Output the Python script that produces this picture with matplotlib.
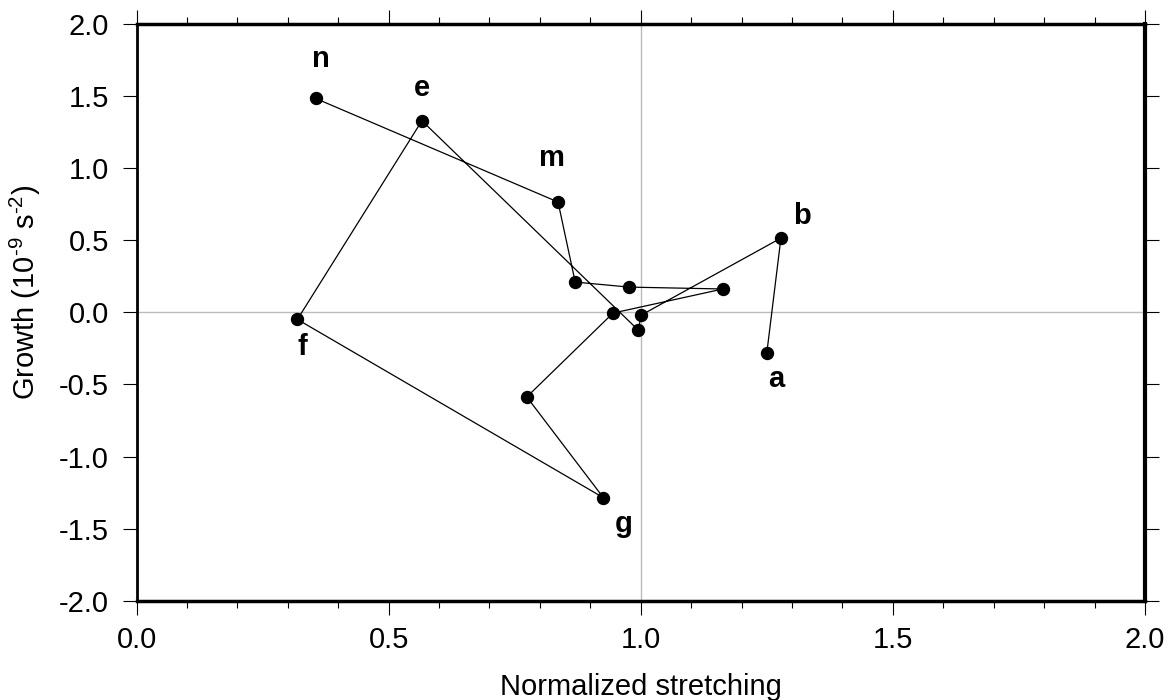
import matplotlib
matplotlib.use("Agg")
import matplotlib.pyplot as plt
from matplotlib.ticker import MultipleLocator

plt.rcParams['font.family'] = ['Liberation Sans', 'DejaVu Sans']
plt.rcParams['mathtext.fontset'] = 'custom'
plt.rcParams['mathtext.rm'] = 'Liberation Sans'
plt.rcParams['mathtext.it'] = 'Liberation Sans'
plt.rcParams['mathtext.default'] = 'rm'

# Data: trajectory in order a..n
labels = ['a', 'b', 'c', 'd', 'e', 'f', 'g', 'h', 'i', 'j', 'k', 'l', 'm', 'n']
stretching = [1.250, 1.278, 1.001, 0.995, 0.566, 0.319, 0.926, 0.774, 0.945, 1.163, 0.977, 0.870, 0.836, 0.355]
growth = [-0.282, 0.515, -0.019, -0.123, 1.329, -0.049, -1.286, -0.587, -0.005, 0.162, 0.175, 0.210, 0.765, 1.484]
shown_labels = ['a', 'b', 'e', 'f', 'g', 'm', 'n']

# label offsets in pixels (style)
label_offsets = {'n': (5, 39), 'e': (0, 33), 'm': (-6, 44), 'b': (21, 22),
                 'a': (9, -26), 'f': (5, -28), 'g': (20, -26)}

fig = plt.figure(figsize=(11.7, 7.0), dpi=100)
ax = fig.add_axes([0.1167, 0.1419, 0.8619, 0.8238])

ax.axvline(1.0, color='#bbbbbb', lw=1.0, zorder=0)
ax.axhline(0.0, color='#bbbbbb', lw=1.0, zorder=0)

ax.plot(stretching, growth, color='black', lw=0.9, zorder=2)
ax.plot(stretching, growth, 'o', color='black', ms=8.6, zorder=3)

for lab, x, y in zip(labels, stretching, growth):
    if lab in shown_labels:
        dx, dy = label_offsets[lab]
        ax.annotate(lab, (x, y), xytext=(dx, dy), textcoords='offset pixels',
                    ha='center', va='center', fontsize=21, fontweight='bold')

ax.set_xlim(0, 2)
ax.set_ylim(-2, 2)
ax.xaxis.set_major_locator(MultipleLocator(0.5))
ax.xaxis.set_minor_locator(MultipleLocator(0.1))
ax.yaxis.set_major_locator(MultipleLocator(0.5))
ax.xaxis.set_major_formatter(matplotlib.ticker.FormatStrFormatter('%.1f'))
ax.yaxis.set_major_formatter(matplotlib.ticker.FormatStrFormatter('%.1f'))

ax.tick_params(which='major', direction='out', length=10, width=0.8,
               labelsize=21, top=True, right=True, labeltop=False, labelright=False)
ax.tick_params(which='minor', direction='out', length=5, width=0.8, top=True)
ax.tick_params(axis='x', which='major', pad=8)
ax.tick_params(axis='y', which='major', pad=10)

for side, lw in [('left', 2.0), ('right', 3.0), ('top', 2.5), ('bottom', 2.5)]:
    ax.spines[side].set_linewidth(lw)

ax.set_xlabel('Normalized stretching', fontsize=21)
ax.set_ylabel(r'Growth (10$^{\text{-}9}$ s$^{\text{-}2}$)', fontsize=21)
ax.xaxis.set_label_coords(0.5, -0.125)
ax.yaxis.set_label_coords(-0.093, 0.534)

fig.savefig('out.png', dpi=100)
